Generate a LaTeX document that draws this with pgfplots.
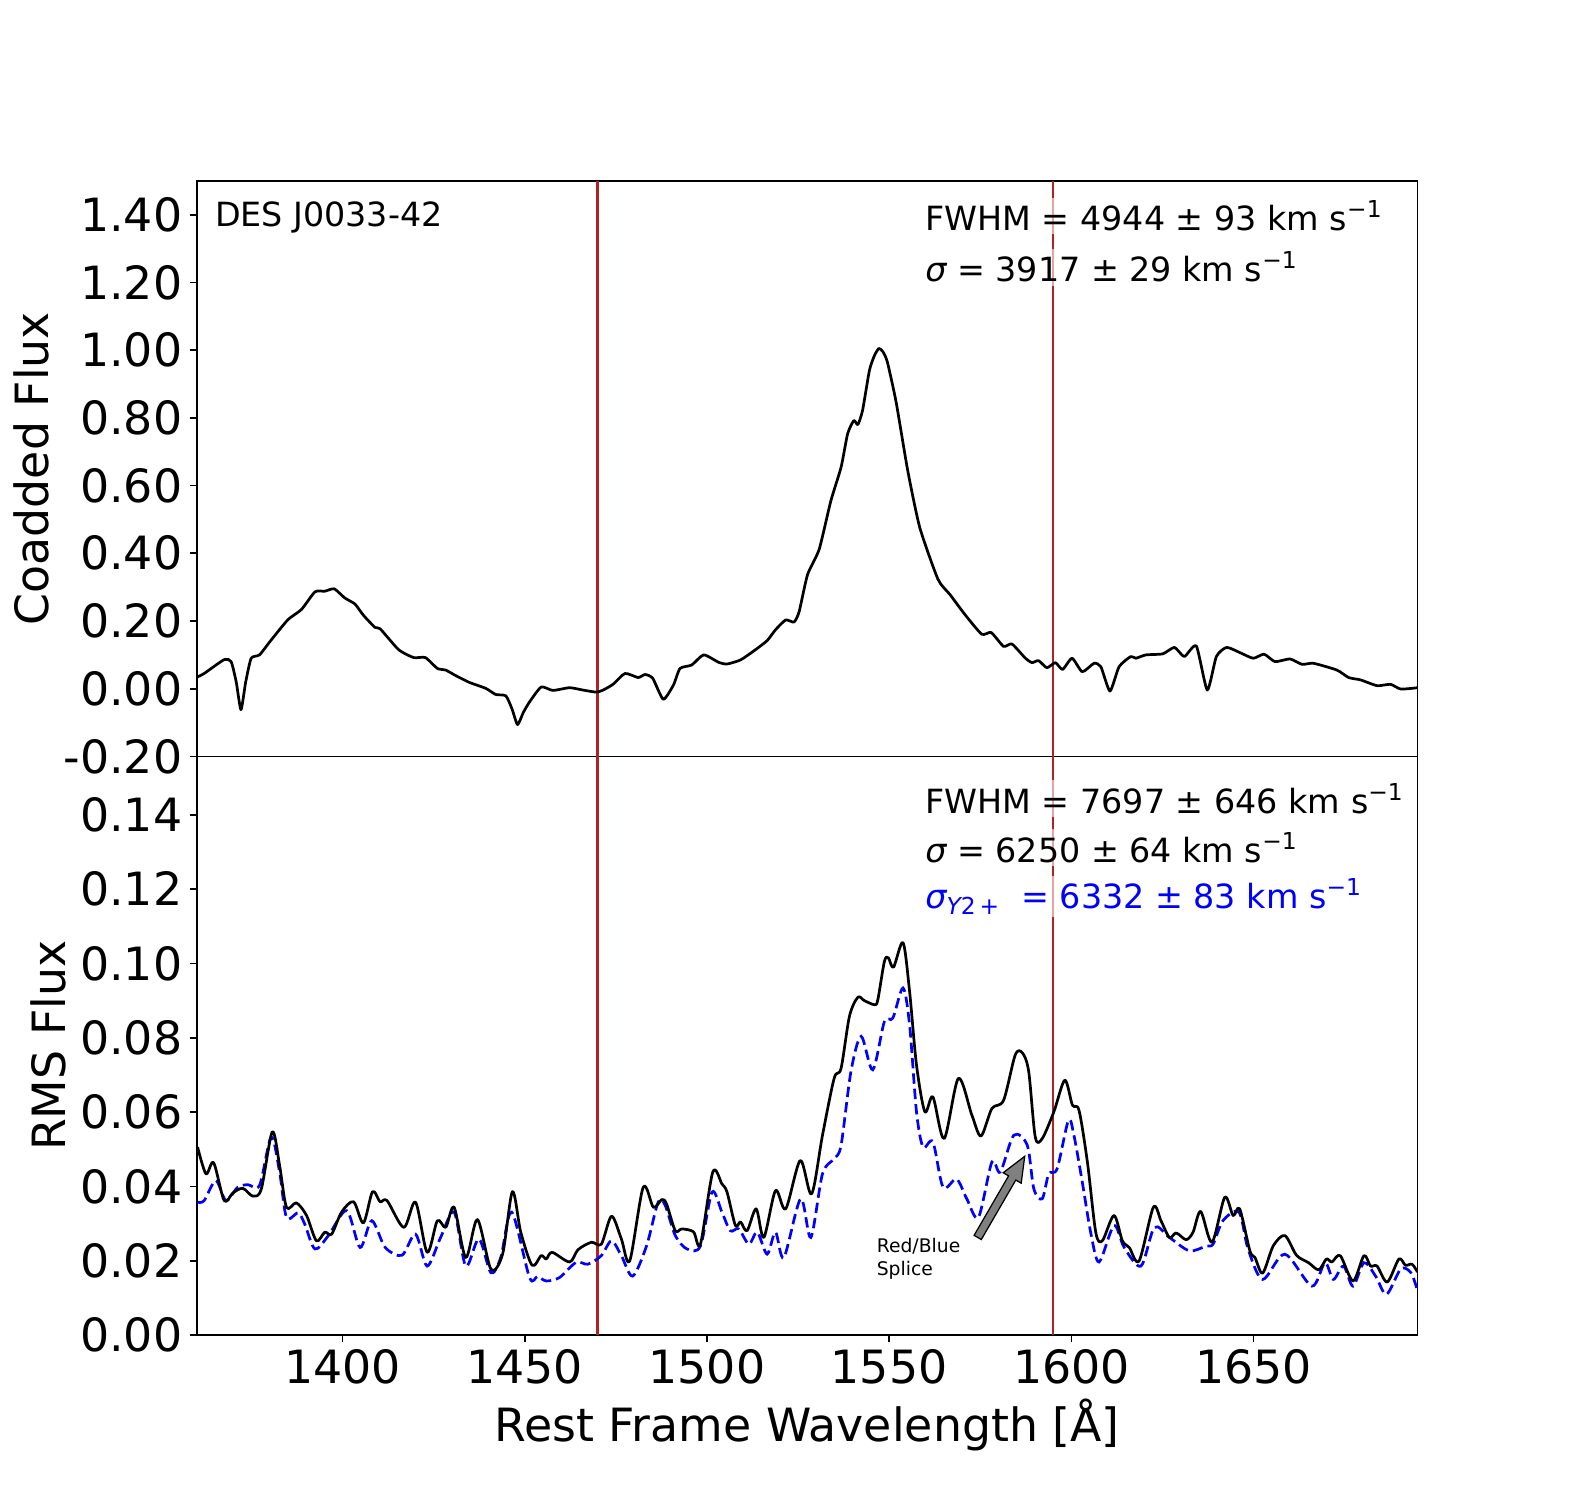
\documentclass[border=0pt]{standalone}
\usepackage{fontspec}
\setmainfont{DejaVu Sans}
\usepackage{pgfplots}
\pgfplotsset{compat=1.18}
\definecolor{firebrick}{RGB}{178,34,34}
\definecolor{pureblue}{RGB}{0,0,255}
\pgfplotstableread{
x y
1360.2 0.035
1362 0.045
1367.5 0.086
1369.4 0.080
1370.8 0.02
1372.1 -0.062
1373.4 0.02
1374.9 0.090
1377.2 0.100
1380.4 0.144
1385 0.204
1388.7 0.234
1392.4 0.286
1395.1 0.288
1397.7 0.295
1400.6 0.268
1403.4 0.250
1405.7 0.217
1408.9 0.181
1410.3 0.177
1415.4 0.115
1419.5 0.092
1422.7 0.092
1426 0.060
1428.3 0.055
1431 0.039
1434.7 0.019
1439.3 0.001
1442 -0.017
1444.8 -0.021
1446.5 -0.06
1448 -0.106
1449.6 -0.07
1451.3 -0.039
1454.5 0.005
1457.7 -0.005
1462.3 0.003
1466 -0.004
1469.6 -0.010
1471.5 -0.004
1474.2 0.013
1477.5 0.045
1481.1 0.033
1483 0.042
1485.1 0.031
1488 -0.031
1490.8 0.011
1492.6 0.060
1495.8 0.070
1499.1 0.100
1503.2 0.078
1505.5 0.073
1509.2 0.085
1512.9 0.112
1516.5 0.142
1518.8 0.174
1521.6 0.203
1523.9 0.197
1525.3 0.228
1527.6 0.337
1530.8 0.412
1534 0.555
1536.8 0.654
1538.6 0.753
1540.3 0.792
1541.4 0.780
1542.7 0.822
1544.6 0.941
1546 0.985
1547.2 1.005
1548.3 0.995
1549.5 0.965
1551.9 0.847
1555.1 0.644
1558.4 0.476
1563.4 0.323
1566.7 0.278
1570.8 0.219
1575.4 0.161
1578 0.166
1581.4 0.125
1583.7 0.132
1587.4 0.090
1589.2 0.077
1591 0.083
1593.3 0.062
1595.6 0.077
1597.6 0.057
1600.2 0.090
1603 0.050
1606.2 0.075
1608.1 0.065
1610.6 -0.007
1613.1 0.065
1616.3 0.095
1617.7 0.090
1620.5 0.100
1625.1 0.103
1628.3 0.122
1631 0.095
1634.3 0.126
1637.3 -0.004
1639.8 0.095
1642.6 0.122
1646.2 0.107
1649.9 0.090
1652.9 0.102
1655.9 0.080
1660 0.088
1663.3 0.072
1666.5 0.075
1672.9 0.055
1676.1 0.033
1679.4 0.026
1683.9 0.009
1687.6 0.013
1690.4 -0.001
1695 0.003
}\coadd
\pgfplotstableread{
x y
1360.2 0.0506
1362.5 0.0434
1364.6 0.0464
1367.5 0.0362
1369.9 0.0383
1372.6 0.0395
1375.4 0.0374
1377.7 0.0394
1380.7 0.0547
1382.7 0.0457
1384.6 0.0344
1387.3 0.0356
1390.1 0.0322
1392.8 0.0254
1395.1 0.0277
1397 0.0272
1399.7 0.0331
1403 0.0359
1405.7 0.0302
1408.2 0.0386
1410.3 0.0359
1412.2 0.0362
1416.8 0.0290
1420 0.0358
1423.2 0.0223
1426 0.0308
1428.3 0.0290
1430.6 0.0344
1433.8 0.0209
1437 0.0311
1440.7 0.0178
1443.9 0.0218
1446.6 0.0386
1448.9 0.0277
1452 0.0188
1454.5 0.0214
1455.9 0.0205
1457.5 0.0223
1462.3 0.0197
1464.6 0.0230
1468.3 0.0250
1471 0.0245
1473.8 0.0320
1476.5 0.0259
1478.8 0.0200
1482.5 0.0398
1485.3 0.0344
1487.6 0.0365
1488.9 0.0353
1491.3 0.0281
1493.1 0.0286
1496.3 0.0278
1498.2 0.0245
1501.6 0.0439
1504.1 0.0407
1505.5 0.0385
1507.8 0.0295
1509.2 0.0305
1511 0.0281
1513.5 0.0340
1515.6 0.0263
1518.8 0.0389
1521.6 0.0340
1525.6 0.0470
1528.7 0.0380
1531.7 0.0538
1534.9 0.0691
1536.8 0.0718
1539.1 0.0858
1541.4 0.0909
1543.2 0.0900
1546 0.0889
1546.9 0.0903
1548.7 0.1006
1549.8 0.1015
1551.2 0.0990
1553.8 0.1056
1555.6 0.0925
1557.5 0.0727
1559.8 0.0601
1562 0.0641
1565.1 0.0529
1569 0.0691
1572.7 0.0592
1575.2 0.0536
1578.2 0.0610
1581.4 0.0632
1584.6 0.0754
1586.6 0.0759
1588.3 0.0709
1590.1 0.0533
1592 0.0529
1595.2 0.0601
1598.2 0.0686
1600.3 0.0619
1602.1 0.0605
1604.4 0.0466
1606.7 0.0277
1608.5 0.0254
1611.7 0.0322
1614 0.0254
1615.9 0.0236
1618.6 0.0200
1622.5 0.0344
1624.6 0.0308
1626.9 0.0263
1628.8 0.0275
1631.5 0.0257
1633.4 0.0277
1635.5 0.0333
1638.6 0.0250
1642.1 0.0371
1644.4 0.0322
1646.2 0.0340
1649 0.0227
1650.4 0.0209
1652.5 0.0167
1655.4 0.0240
1658.6 0.0268
1661.8 0.0215
1665.1 0.0195
1667.9 0.0176
1670 0.0205
1671.5 0.0197
1673.8 0.0214
1677.3 0.0146
1680.3 0.0214
1682.1 0.0186
1683.9 0.0186
1686.7 0.0143
1689.9 0.0205
1691.7 0.0188
1693.5 0.0191
1695 0.0170
}\rms
\pgfplotstableread{
x y
1360.2 0.0358
1362 0.0362
1365.2 0.0416
1368 0.0362
1371.2 0.0398
1374 0.0405
1377.2 0.0403
1380.4 0.0533
1382.7 0.0439
1384.6 0.0317
1387.8 0.0329
1389.6 0.0299
1392.4 0.0232
1396.1 0.0268
1401.1 0.0335
1404.8 0.0236
1408 0.0308
1411.7 0.0236
1416.3 0.0215
1420 0.0272
1423.2 0.0186
1426.9 0.0263
1430.6 0.0331
1433.8 0.0186
1437.4 0.0259
1440.7 0.0168
1443.4 0.0209
1446.4 0.0331
1451.3 0.0155
1453.5 0.0158
1455.9 0.0146
1459.5 0.0155
1464.1 0.0196
1467.3 0.0191
1471 0.0214
1473.8 0.0254
1476.5 0.0214
1479.6 0.0159
1483.4 0.0240
1486.6 0.0358
1488.5 0.0350
1491.3 0.0268
1494.5 0.0232
1498.2 0.0240
1501.4 0.0385
1504.1 0.0331
1506.4 0.0281
1508.7 0.0286
1511.5 0.0245
1513.8 0.0277
1516.5 0.0218
1518.8 0.0277
1521.1 0.0209
1525.7 0.0367
1528.5 0.0263
1531.7 0.0434
1534.9 0.0475
1536.8 0.0511
1539.5 0.0709
1542.3 0.0804
1545.5 0.0714
1548.7 0.0844
1551 0.0853
1553.8 0.0934
1555.6 0.0835
1557.5 0.0601
1559.3 0.0506
1562 0.0520
1564.8 0.0398
1568.5 0.0420
1571.3 0.0367
1574.5 0.0317
1578.2 0.0466
1580.5 0.0439
1584.2 0.0538
1587.9 0.0511
1589.7 0.0394
1592 0.0367
1593.8 0.0434
1596.1 0.0448
1599.2 0.0578
1600.7 0.0538
1603 0.0412
1605.3 0.0277
1607.6 0.0197
1611.7 0.0295
1614.5 0.0236
1619.1 0.0186
1622.8 0.0290
1626.9 0.0263
1632.4 0.0227
1637 0.0240
1638.9 0.0245
1641.6 0.0308
1646 0.0331
1648.5 0.0232
1652.5 0.0150
1658.6 0.0218
1666 0.0132
1669.6 0.0195
1671.9 0.0150
1674.7 0.0186
1677.3 0.0132
1680.3 0.0195
1683.5 0.0159
1686.5 0.0110
1690.4 0.0178
1693.2 0.0168
1695 0.0120
}\rmsblue
\tikzset{ann/.style={anchor=west, font=\fontsize{16}{19}\selectfont, fill=white, fill opacity=0.6, text opacity=1, inner sep=1.5pt}}
\begin{document}
\begin{tikzpicture}
\path[use as bounding box] (0,0) rectangle (756pt,720pt);
\pgfplotsset{
  common/.style={
    scale only axis, width=585.9pt,
    xmin=1360, xmax=1695,
    axis line style={line width=0.8pt},
    tick align=outside, tick pos=left,
    major tick length=3.5pt,
    every tick/.style={black, line width=0.8pt},
    ticklabel style={font=\fontsize{22}{26}\selectfont},
    label style={font=\fontsize{22}{26}\selectfont},
    clip=true,
  },
}
% top panel
\begin{axis}[common, at={(94.5pt,356.9pt)}, anchor=south west,
  height=276.3pt, ymin=-0.2, ymax=1.5,
  xtick=\empty,
  ytick={-0.2,0,0.2,0.4,0.6,0.8,1.0,1.2,1.4},
  yticklabels={-0.20,0.00,0.20,0.40,0.60,0.80,1.00,1.20,1.40},
  ylabel={Coadded Flux}]
\addplot[firebrick, line width=1.3pt] coordinates {(1470,-0.2) (1470,1.5)};
\addplot[firebrick, line width=1.3pt] coordinates {(1595,-0.2) (1595,1.5)};
\addplot[black, line width=1.3pt, line join=round, smooth, tension=0.35] table[x=x,y=y] {\coadd};
\node[ann, fill opacity=0] at (rel axis cs:0.012,0.936) {DES J0033-42};
\node[ann] at (rel axis cs:0.594,0.939) {FWHM = 4944 ± 93 km s\textsuperscript{−1}};
\node[ann] at (rel axis cs:0.594,0.850) {{\itshape σ} = 3917 ± 29 km s\textsuperscript{−1}};
\end{axis}
% bottom panel
\begin{axis}[common, at={(94.5pt,79.1pt)}, anchor=south west,
  height=277.8pt, ymin=0, ymax=0.1557,
  xtick={1400,1450,1500,1550,1600,1650},
  xticklabels={1400,1450,1500,1550,1600,1650},
  ytick={0,0.02,0.04,0.06,0.08,0.10,0.12,0.14},
  yticklabels={0.00,0.02,0.04,0.06,0.08,0.10,0.12,0.14},
  ylabel={RMS Flux},
  xlabel={Rest Frame Wavelength [Å]}]
\addplot[firebrick, line width=1.3pt] coordinates {(1470,0) (1470,0.1557)};
\addplot[firebrick, line width=1.3pt] coordinates {(1595,0) (1595,0.1557)};
\addplot[pureblue, line width=1.3pt, dash pattern=on 5pt off 2.4pt, smooth, tension=0.5] table[x=x,y=y] {\rmsblue};
\addplot[black, line width=1.3pt, line join=round, smooth, tension=0.5] table[x=x,y=y] {\rms};
\node[ann] at (rel axis cs:0.594,0.927) {FWHM = 7697 ± 646 km s\textsuperscript{−1}};
\node[ann] at (rel axis cs:0.594,0.843) {{\itshape σ} = 6250 ± 64 km s\textsuperscript{−1}};
\node[ann, text=pureblue] at (rel axis cs:0.594,0.758) {{\itshape σ}\textsubscript{{\itshape Y}2\,+} \ = 6332 ± 83 km s\textsuperscript{−1}};
\node[anchor=north west, align=left, font=\fontsize{9}{11}\selectfont, inner sep=0pt] at (axis cs:1546.5,0.0262) {Red/Blue\\Splice};
\coordinate (tail) at (axis cs:1574.3,0.0263);
\end{axis}
\begin{scope}[shift={(tail)}, rotate=59.9]
\filldraw[fill=gray, draw=black, line width=0.6pt] (0,-2pt) -- (33pt,-2pt) -- (33pt,-5pt) -- (45pt,0) -- (33pt,5pt) -- (33pt,2pt) -- (0,2pt) -- cycle;
\end{scope}
\end{tikzpicture}
\end{document}
